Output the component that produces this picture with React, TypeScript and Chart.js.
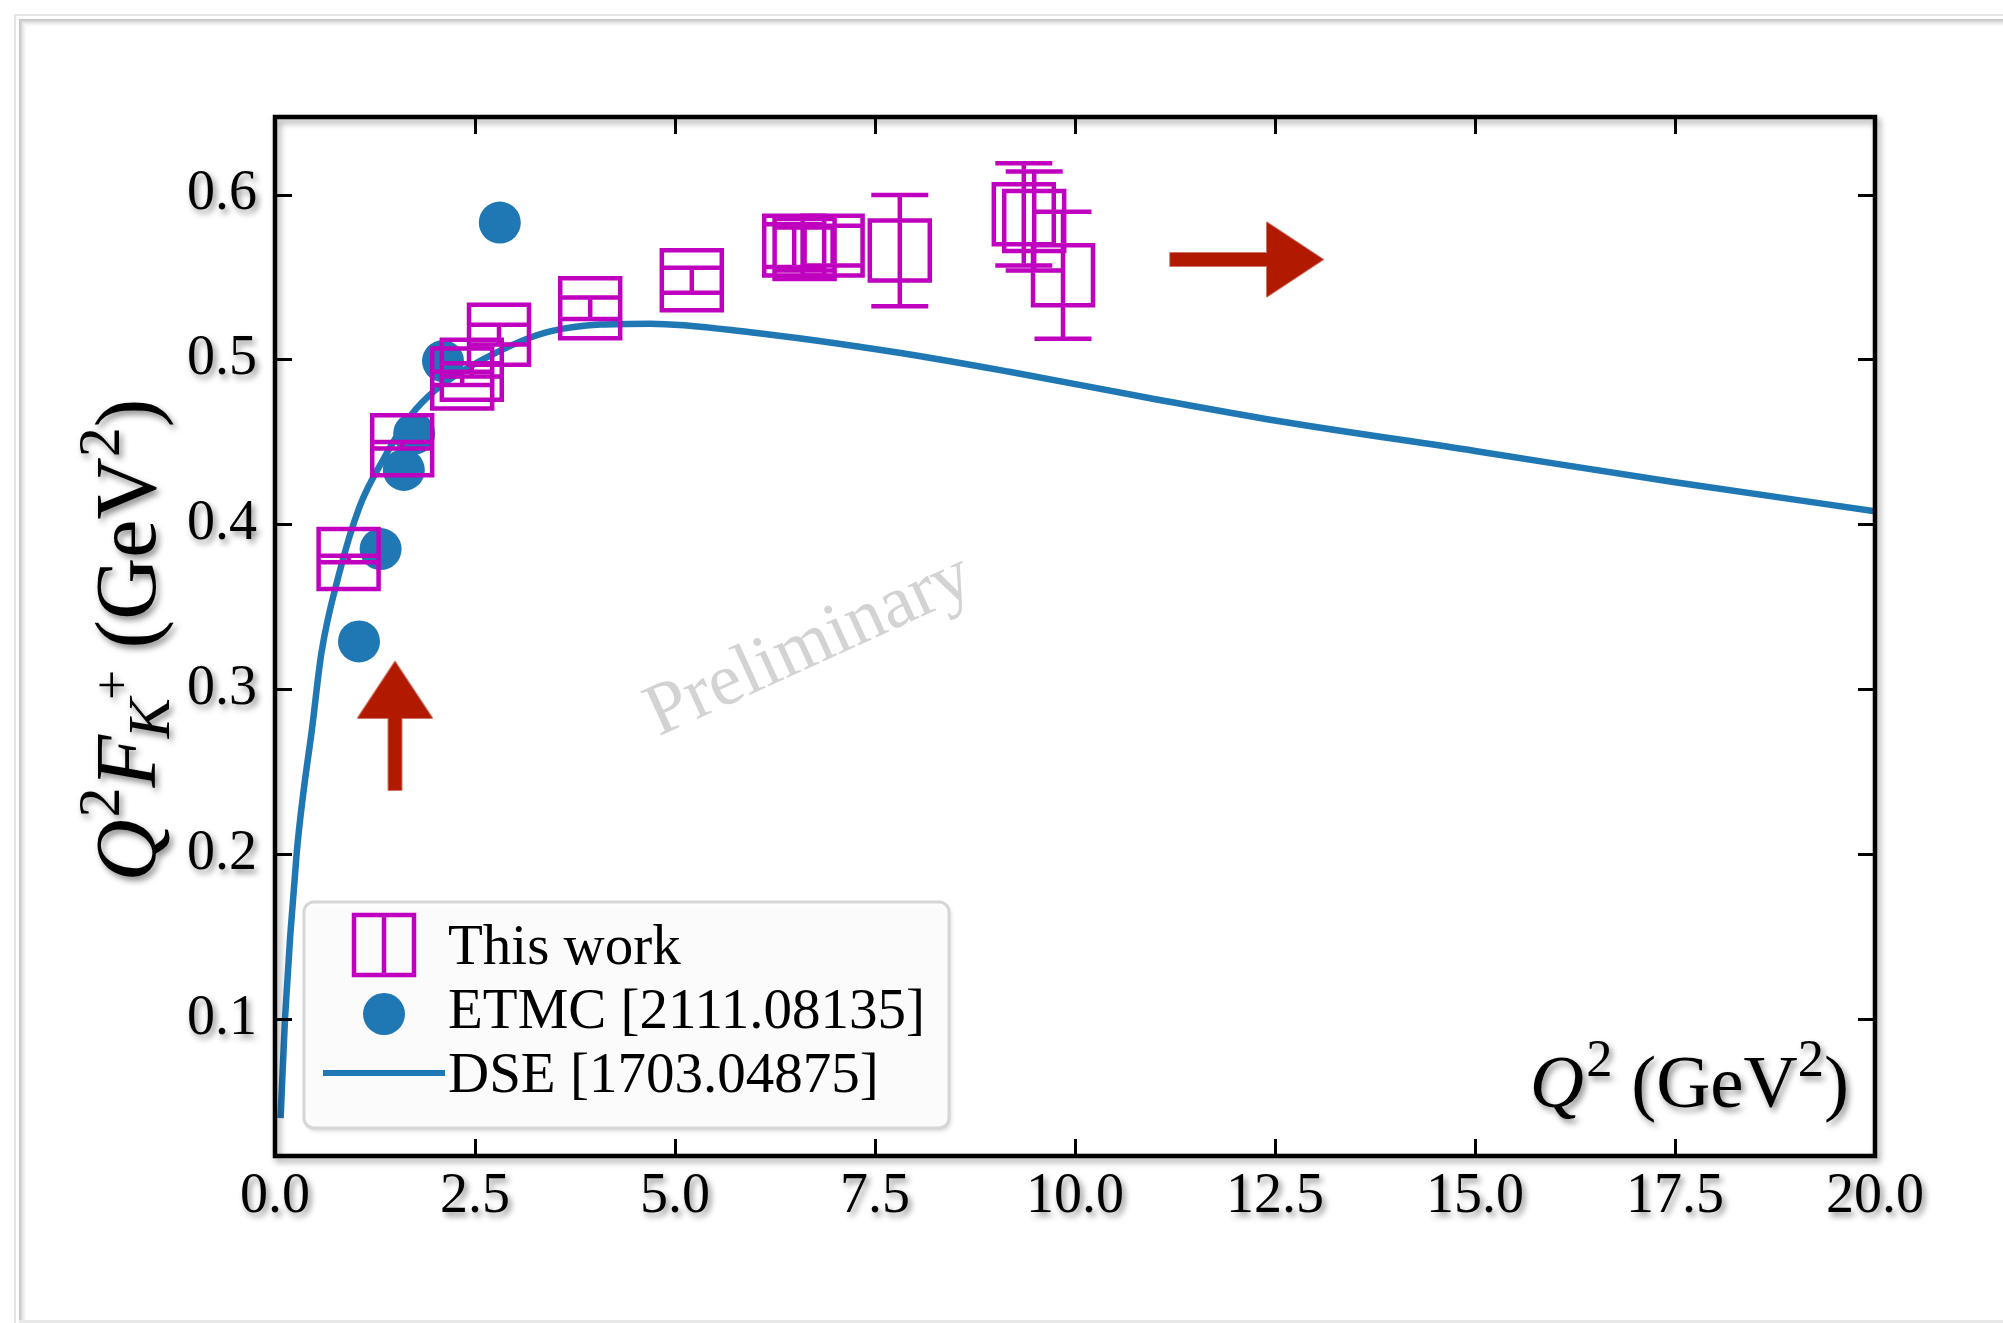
import React, { useEffect, useRef } from 'react';
import { Chart, registerables } from 'chart.js';

Chart.register(...registerables);

// ---------------- data ----------------
const xTicks = [0, 2.5, 5, 7.5, 10, 12.5, 15, 17.5, 20];
const yTicks = [0.1, 0.2, 0.3, 0.4, 0.5, 0.6];

const thisWorkQ2 = [0.92, 1.59, 2.34, 2.46, 2.8, 3.94, 5.21, 6.49, 6.62, 6.97, 7.81, 9.36, 9.49, 9.85];
const thisWorkF = [0.379, 0.448, 0.4885, 0.4937, 0.515, 0.531, 0.548, 0.569, 0.567, 0.569, 0.566, 0.588, 0.584, 0.551];
const thisWorkErr = [0.002, 0.002, 0.004, 0.004, 0.006, 0.0065, 0.0076, 0.013, 0.013, 0.012, 0.0337, 0.031, 0.03, 0.0385];

const etmcQ2 = [1.05, 1.32, 1.61, 1.74, 2.1, 2.81];
const etmcF = [0.329, 0.385, 0.433, 0.455, 0.499, 0.583];

const dseQ2 = [0.07, 0.125, 0.27, 0.354, 0.46, 0.58, 0.79, 1.06, 1.35, 1.69, 2.02, 2.6, 3.44, 4.69, 5.94, 7.74, 9.18, 10.94, 12.5, 15, 17.5, 20];
const dseF = [0.04, 0.1, 0.2, 0.237, 0.275, 0.322, 0.368, 0.411, 0.439, 0.4655, 0.482, 0.5, 0.517, 0.5217, 0.5165, 0.5045, 0.4925, 0.4765, 0.463, 0.4445, 0.4255, 0.408];

const legendLabels = ['This work', 'ETMC [2111.08135]', 'DSE [1703.04875]'];

// annotation arrows (data coordinates)
const upArrow = { x0: 1.5, y0: 0.239, x1: 1.5, y1: 0.3166 };
const rightArrow = { x0: 11.19, y0: 0.5606, x1: 13.1, y1: 0.5606 };

const X_MIN = 0, X_MAX = 20, Y_MIN = 0.017, Y_MAX = 0.647;

// ---------------- style ----------------
const SERIF = '"Liberation Serif", "DejaVu Serif", "Times New Roman", serif';
const MAGENTA = '#bf00bf';
const BLUE = '#1f77b4';
const RED = '#b21a00';

type Seg = { t: string; it?: boolean; s?: number; dy?: number; dx?: number };

function setShadow(ctx: CanvasRenderingContext2D, a = 0.45) {
  ctx.shadowColor = `rgba(0,0,0,${a})`;
  ctx.shadowBlur = 6;
  ctx.shadowOffsetX = 3;
  ctx.shadowOffsetY = 4;
}

function drawRich(ctx: CanvasRenderingContext2D, segs: Seg[], size: number, x: number, y: number, align: 'left' | 'right' | 'center') {
  const items: { sg: Seg; font: string; x: number }[] = [];
  let cx = 0;
  for (const sg of segs) {
    const fs = size * (sg.s ?? 1);
    const font = `${sg.it ? 'italic ' : ''}${fs}px ${SERIF}`;
    ctx.font = font;
    const w = ctx.measureText(sg.t).width;
    cx += (sg.dx ?? 0) * size;
    items.push({ sg, font, x: cx });
    cx += w;
  }
  const x0 = align === 'right' ? x - cx : align === 'center' ? x - cx / 2 : x;
  ctx.textAlign = 'left';
  ctx.textBaseline = 'alphabetic';
  for (const it of items) {
    ctx.font = it.font;
    ctx.fillText(it.sg.t, x0 + it.x, y + (it.sg.dy ?? 0) * size);
  }
}

function drawArrow(ctx: CanvasRenderingContext2D, ax: number, ay: number, bx: number, by: number) {
  const dx = bx - ax, dy = by - ay;
  const len = Math.hypot(dx, dy);
  const ux = dx / len, uy = dy / len;
  const px = -uy, py = ux;
  const headLen = 56, headHalf = 37, stemHalf = 6.5;
  const hx = bx - ux * headLen, hy = by - uy * headLen;
  ctx.beginPath();
  ctx.moveTo(ax + px * stemHalf, ay + py * stemHalf);
  ctx.lineTo(hx + px * stemHalf, hy + py * stemHalf);
  ctx.lineTo(hx + px * headHalf, hy + py * headHalf);
  ctx.lineTo(bx, by);
  ctx.lineTo(hx - px * headHalf, hy - py * headHalf);
  ctx.lineTo(hx - px * stemHalf, hy - py * stemHalf);
  ctx.lineTo(ax - px * stemHalf, ay - py * stemHalf);
  ctx.closePath();
  ctx.fillStyle = RED;
  ctx.fill();
  ctx.strokeStyle = 'rgba(178,26,0,0.6)';
  ctx.lineWidth = 2;
  ctx.lineJoin = 'round';
  ctx.stroke();
}

const decorPlugin = {
  id: 'decor',
  beforeDraw(chart: any) {
    const ctx: CanvasRenderingContext2D = chart.ctx;
    const W = chart.width, H = chart.height;
    ctx.save();
    ctx.fillStyle = '#ffffff';
    ctx.fillRect(0, 0, W, H);
    // outer figure frame
    ctx.fillStyle = '#e6e6e6';
    ctx.fillRect(14, 14, W, 2);
    ctx.fillRect(14, 14, 2, H);
    const shades = ['#c6c6c6', '#cfcfcf', '#d9d9d9', '#e3e3e3', '#ececec', '#f3f3f3', '#f8f8f8'];
    shades.forEach((c, i) => {
      ctx.fillStyle = c;
      ctx.fillRect(19 + i, 19 + i, W, 1);
      ctx.fillRect(19 + i, 19 + i, 1, H);
    });
    ctx.fillStyle = '#e8e8e8';
    ctx.fillRect(19, H - 3, W, 3);
    ctx.restore();
    // shadow for tick labels drawn by the scales
    ctx.save();
    setShadow(ctx);
  },
  beforeDatasetsDraw(chart: any) {
    const ctx: CanvasRenderingContext2D = chart.ctx;
    ctx.restore();
    const xs = chart.scales.x, ys = chart.scales.y;
    // watermark
    ctx.save();
    const cx = xs.getPixelForValue(6.68), cy = ys.getPixelForValue(0.326);
    ctx.translate(cx, cy);
    ctx.rotate((-24.5 * Math.PI) / 180);
    ctx.font = `74px ${SERIF}`;
    ctx.fillStyle = '#d3d3d3';
    ctx.textAlign = 'center';
    ctx.textBaseline = 'middle';
    ctx.fillText('Preliminary', 0, 0);
    ctx.restore();
  },
  afterDatasetsDraw(chart: any) {
    const ctx: CanvasRenderingContext2D = chart.ctx;
    const xs = chart.scales.x, ys = chart.scales.y;
    ctx.save();
    ctx.strokeStyle = MAGENTA;
    ctx.lineWidth = 4.5;
    const cap = 28.5;
    thisWorkQ2.forEach((q, i) => {
      const px = xs.getPixelForValue(q);
      const yTop = ys.getPixelForValue(thisWorkF[i] + thisWorkErr[i]);
      const yBot = ys.getPixelForValue(thisWorkF[i] - thisWorkErr[i]);
      ctx.beginPath();
      ctx.moveTo(px, yTop);
      ctx.lineTo(px, yBot);
      ctx.moveTo(px - cap, yTop);
      ctx.lineTo(px + cap, yTop);
      ctx.moveTo(px - cap, yBot);
      ctx.lineTo(px + cap, yBot);
      ctx.stroke();
    });
    ctx.restore();
    // arrows
    ctx.save();
    drawArrow(ctx, xs.getPixelForValue(upArrow.x0), ys.getPixelForValue(upArrow.y0), xs.getPixelForValue(upArrow.x1), ys.getPixelForValue(upArrow.y1));
    drawArrow(ctx, xs.getPixelForValue(rightArrow.x0), ys.getPixelForValue(rightArrow.y0), xs.getPixelForValue(rightArrow.x1), ys.getPixelForValue(rightArrow.y1));
    ctx.restore();
  },
  afterDraw(chart: any) {
    const ctx: CanvasRenderingContext2D = chart.ctx;
    const { left, right, top, bottom } = chart.chartArea;
    const xs = chart.scales.x, ys = chart.scales.y;

    // frame + inward ticks
    ctx.save();
    setShadow(ctx, 0.35);
    ctx.strokeStyle = '#000';
    ctx.lineWidth = 4.5;
    ctx.strokeRect(left, top, right - left, bottom - top);
    ctx.restore();
    ctx.save();
    ctx.strokeStyle = '#000';
    ctx.lineWidth = 3;
    const tl = 17;
    ctx.beginPath();
    xTicks.forEach((v) => {
      const px = Math.round(xs.getPixelForValue(v)) + 0.5;
      ctx.moveTo(px, bottom);
      ctx.lineTo(px, bottom - tl);
      ctx.moveTo(px, top);
      ctx.lineTo(px, top + tl);
    });
    yTicks.forEach((v) => {
      const py = Math.round(ys.getPixelForValue(v)) + 0.5;
      ctx.moveTo(left, py);
      ctx.lineTo(left + tl, py);
      ctx.moveTo(right, py);
      ctx.lineTo(right - tl, py);
    });
    ctx.stroke();
    ctx.restore();

    // axis titles
    ctx.save();
    setShadow(ctx);
    ctx.fillStyle = '#000';
    drawRich(
      ctx,
      [{ t: 'Q', it: true }, { t: '2', s: 0.7, dy: -0.42, dx: 0.03 }, { t: ' (GeV' }, { t: '2', s: 0.7, dy: -0.42 }, { t: ')' }],
      75, 1849, 1107, 'right'
    );
    ctx.translate(155, 640);
    ctx.rotate(-Math.PI / 2);
    drawRich(
      ctx,
      [
        { t: 'Q', it: true },
        { t: '2', s: 0.7, dy: -0.42, dx: 0.02 },
        { t: 'F', it: true },
        { t: 'K', it: true, s: 0.7, dy: 0.16, dx: -0.04 },
        { t: '+', s: 0.62, dy: -0.3, dx: -0.02 },
        { t: ' (GeV' },
        { t: '2', s: 0.7, dy: -0.42 },
        { t: ')' },
      ],
      86, 0, 0, 'center'
    );
    ctx.restore();

    // legend
    ctx.save();
    const lx = 304, ly = 902, lw = 645, lh = 226;
    ctx.shadowColor = 'rgba(0,0,0,0.18)';
    ctx.shadowBlur = 4;
    ctx.shadowOffsetX = 2;
    ctx.shadowOffsetY = 3;
    ctx.beginPath();
    ctx.roundRect(lx, ly, lw, lh, 10);
    ctx.fillStyle = 'rgba(255,255,255,0.9)';
    ctx.fill();
    ctx.shadowColor = 'rgba(0,0,0,0)';
    ctx.strokeStyle = '#d6d6d6';
    ctx.lineWidth = 3;
    ctx.stroke();
    // markers
    ctx.strokeStyle = MAGENTA;
    ctx.lineWidth = 4.5;
    ctx.strokeRect(354, 915, 60, 60);
    ctx.beginPath();
    ctx.moveTo(384, 915);
    ctx.lineTo(384, 975);
    ctx.stroke();
    ctx.fillStyle = BLUE;
    ctx.beginPath();
    ctx.arc(384, 1014, 21, 0, Math.PI * 2);
    ctx.fill();
    ctx.strokeStyle = BLUE;
    ctx.lineWidth = 6;
    ctx.beginPath();
    ctx.moveTo(323, 1073);
    ctx.lineTo(445, 1073);
    ctx.stroke();
    ctx.fillStyle = '#000';
    ctx.font = `57px ${SERIF}`;
    ctx.textAlign = 'left';
    ctx.textBaseline = 'alphabetic';
    const baselines = [964, 1028, 1092];
    legendLabels.forEach((t, i) => ctx.fillText(t, 448, baselines[i]));
    ctx.restore();
  },
};

export default function App() {
  const ref = useRef<HTMLCanvasElement>(null);
  useEffect(() => {
    document.body.style.margin = '0';
    document.body.style.overflow = 'hidden';
    const canvas = ref.current!;
    const tickFont = { family: SERIF, size: 56 };
    const chart = new Chart(canvas, {
      type: 'scatter',
      data: {
        datasets: [
          {
            label: legendLabels[0],
            data: thisWorkQ2.map((x, i) => ({ x, y: thisWorkF[i] })),
            pointStyle: 'rect',
            pointRadius: 42.4,
            pointBorderWidth: 4.5,
            pointBorderColor: MAGENTA,
            pointBackgroundColor: 'rgba(0,0,0,0)',
            order: 0,
          },
          {
            label: legendLabels[1],
            data: etmcQ2.map((x, i) => ({ x, y: etmcF[i] })),
            pointStyle: 'circle',
            pointRadius: 21,
            pointBorderWidth: 0,
            pointBorderColor: BLUE,
            pointBackgroundColor: BLUE,
            order: 1,
          },
          {
            label: legendLabels[2],
            data: dseQ2.map((x, i) => ({ x, y: dseF[i] })),
            showLine: true,
            borderColor: BLUE,
            borderWidth: 6.5,
            pointRadius: 0,
            cubicInterpolationMode: 'monotone',
            fill: false,
            order: 2,
          },
        ],
      } as any,
      options: {
        responsive: false,
        animation: false,
        events: [],
        layout: { padding: { top: 117, right: 128, left: 0, bottom: 0 } },
        plugins: { legend: { display: false }, tooltip: { enabled: false } },
        scales: {
          x: {
            type: 'linear',
            position: 'bottom',
            min: X_MIN,
            max: X_MAX,
            afterBuildTicks: (s: any) => {
              s.ticks = xTicks.map((v) => ({ value: v }));
            },
            afterFit: (s: any) => {
              s.height = 167;
            },
            grid: { display: false, drawTicks: false },
            border: { display: false },
            ticks: {
              padding: 8,
              font: tickFont,
              color: '#000',
              maxRotation: 0,
              autoSkip: false,
              callback: (v: any) => Number(v).toFixed(1),
            },
          },
          y: {
            type: 'linear',
            min: Y_MIN,
            max: Y_MAX,
            afterBuildTicks: (s: any) => {
              s.ticks = yTicks.map((v) => ({ value: v }));
            },
            afterFit: (s: any) => {
              s.width = 275;
            },
            grid: { display: false, drawTicks: false },
            border: { display: false },
            ticks: {
              padding: 18,
              font: tickFont,
              color: '#000',
              autoSkip: false,
              callback: (v: any) => Number(v).toFixed(1),
            },
          },
        },
      } as any,
      plugins: [decorPlugin],
    });
    return () => chart.destroy();
  }, []);
  return <canvas ref={ref} width={2003} height={1323} style={{ display: 'block' }} />;
}
